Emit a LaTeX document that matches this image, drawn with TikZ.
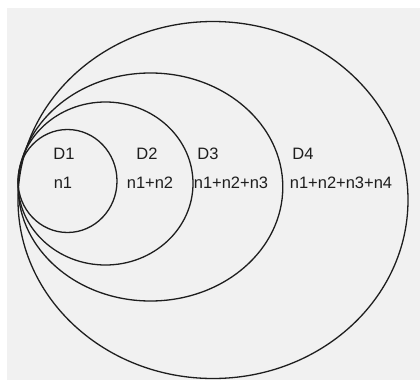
\documentclass[tikz,border=0pt]{standalone}
\usepackage{fontspec}
\setmainfont{Liberation Sans}
\definecolor{paper}{HTML}{F1F1F1}
\definecolor{ink}{HTML}{1E1E1E}
\begin{document}
\begin{tikzpicture}[x=1pt,y=-1pt,
  ring/.style={draw=ink,line width=1.3pt},
  lbl/.style={font=\fontsize{16.5}{18}\selectfont,text=ink,inner sep=0pt}]
\useasboundingbox (0,0) rectangle (420,380);
\fill[white] (0,0) rectangle (420,380);
\fill[paper] (7,8) rectangle (420,380);
\draw[ring] (67.5,181) ellipse [x radius=49.5, y radius=51.5];
\draw[ring] (105.5,183.5) ellipse [x radius=87.5, y radius=81.5];
\draw[ring] (150.5,187) ellipse [x radius=132.3, y radius=114];
\draw[ring] (213,200) ellipse [x radius=195, y radius=178.5];
\node[lbl] (d1) at (64,154) {D1};
\node[lbl] (n1) at (63,183) {n1};
\node[lbl] (d2) at (147,154) {D2};
\node[lbl] (s2) at (150,183) {n1+n2};
\node[lbl] (d3) at (208,154) {D3};
\node[lbl] (s3) at (231,183) {n1+n2+n3};
\node[lbl] (d4) at (303,154) {D4};
\node[lbl] (s4) at (341,183) {n1+n2+n3+n4};
\end{tikzpicture}
\end{document}
